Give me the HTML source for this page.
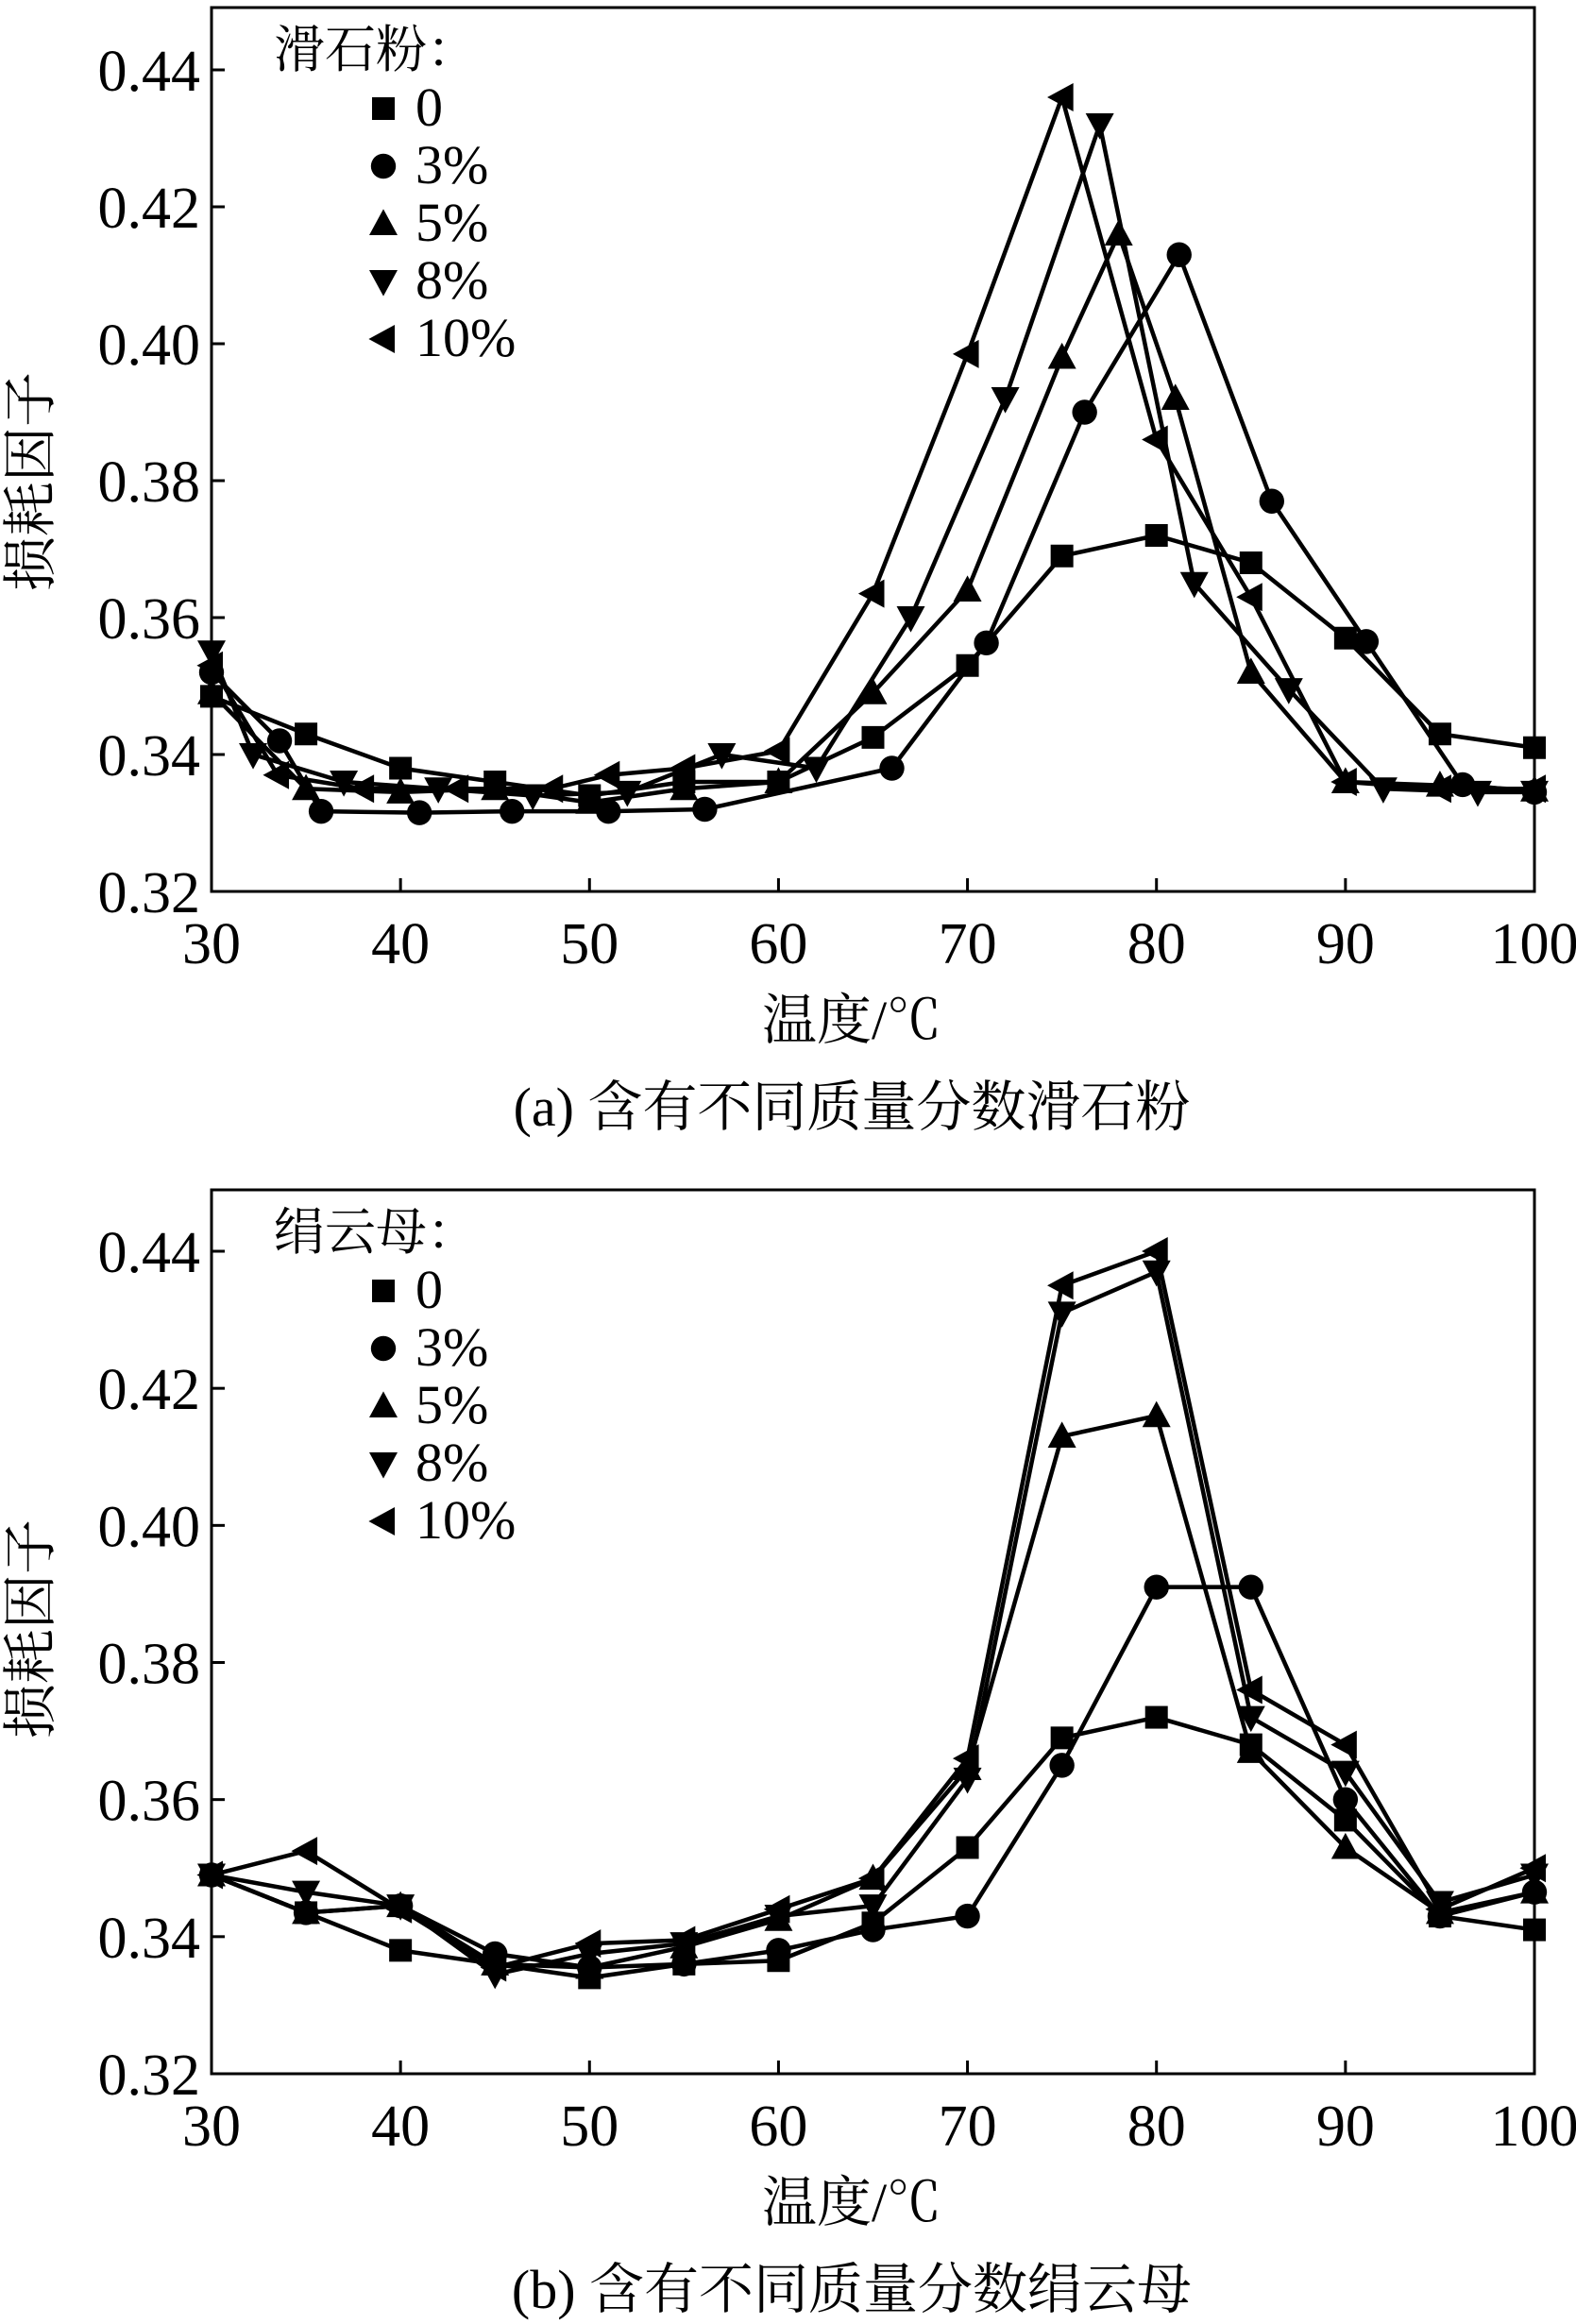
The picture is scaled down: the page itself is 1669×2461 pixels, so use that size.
<!DOCTYPE html>
<html><head><meta charset="utf-8"><style>
html,body{margin:0;padding:0;background:#fff}
svg{display:block}
text{font-family:"Liberation Serif","Noto Serif CJK SC","Noto Sans CJK SC",serif;fill:#000}
</style></head><body>
<svg id="chart" width="1669" height="2461" viewBox="0 0 1669 2461" xmlns="http://www.w3.org/2000/svg"></svg>
<script>
const xTicks=[30,40,50,60,70,80,90,100];
const yTicks=[0.32,0.34,0.36,0.38,0.40,0.42,0.44];
const yTickLabels=["0.32","0.34","0.36","0.38","0.40","0.42","0.44"];
const seriesLabels=["0","3%","5%","8%","10%"];
const markers=["square","circle","up","down","left"];
// panel a: talc
const aX0=[30,35,40,45,50,55,60,65,70,75,80,85,90,95,100];
const aY0=[0.3485,0.343,0.338,0.336,0.334,0.336,0.336,0.3425,0.353,0.369,0.372,0.368,0.357,0.343,0.341];
const aX3=[30,33.6,35.8,41,45.9,51,56.1,66,71,76.2,81.2,86.1,91.1,96.2,100];
const aY3=[0.352,0.342,0.3317,0.3315,0.3317,0.3317,0.332,0.338,0.3563,0.390,0.413,0.377,0.3565,0.3356,0.3345];
const aX5=[30,35,40,45,50,55,60,65,70,75,78,81,85,90,95,100];
const aY5=[0.349,0.335,0.3345,0.335,0.333,0.335,0.336,0.349,0.364,0.398,0.416,0.392,0.352,0.336,0.3355,0.3348];
const aX8=[30,32.2,37,42,47,52,57,62,67,72,77,82,87,92,97,100];
const aY8=[0.355,0.340,0.336,0.335,0.334,0.3345,0.340,0.338,0.360,0.392,0.432,0.365,0.3495,0.335,0.3345,0.3345];
const aX10=[30,33.5,38,43,48,51,55,60,65,70,75,80,85,90,95,100];
const aY10=[0.353,0.337,0.335,0.335,0.335,0.337,0.338,0.3405,0.3635,0.3985,0.436,0.386,0.363,0.336,0.335,0.335];
// panel b: sericite
const bX=[30,35,40,45,50,55,60,65,70,75,80,85,90,95,100];
const bY0=[0.349,0.3435,0.338,0.336,0.334,0.336,0.3365,0.342,0.353,0.369,0.372,0.368,0.357,0.343,0.341];
const bY3=[0.349,0.3435,0.3445,0.3375,0.3355,0.336,0.338,0.341,0.343,0.365,0.391,0.391,0.360,0.343,0.3465];
const bY5=[0.349,0.3435,0.3445,0.336,0.3355,0.3385,0.3425,0.3485,0.3645,0.413,0.416,0.367,0.353,0.3435,0.3465];
const bY8=[0.349,0.3465,0.3445,0.3345,0.3375,0.339,0.343,0.3445,0.363,0.431,0.437,0.372,0.364,0.345,0.349];
const bY10=[0.349,0.3525,0.344,0.3355,0.339,0.3395,0.344,0.3485,0.366,0.435,0.440,0.376,0.368,0.344,0.350];

const NS="http://www.w3.org/2000/svg";
const svg=document.getElementById('chart');
function mk(tag,attrs,parent){const e=document.createElementNS(NS,tag);for(const k in attrs)e.setAttribute(k,attrs[k]);(parent||svg).appendChild(e);return e;}
function marker(type,cx,cy,s,g){
  let e;
  if(type==="square")e=mk('rect',{x:cx-s,y:cy-s,width:2*s,height:2*s,fill:'#000'},g);
  else if(type==="circle")e=mk('circle',{cx:cx,cy:cy,r:s*1.1,fill:'#000'},g);
  else if(type==="up")e=mk('polygon',{points:`${cx},${cy-s*1.3} ${cx-s*1.25},${cy+s} ${cx+s*1.25},${cy+s}`,fill:'#000'},g);
  else if(type==="down")e=mk('polygon',{points:`${cx},${cy+s*1.3} ${cx-s*1.25},${cy-s} ${cx+s*1.25},${cy-s}`,fill:'#000'},g);
  else e=mk('polygon',{points:`${cx-s*1.3},${cy} ${cx+s},${cy-s*1.25} ${cx+s},${cy+s*1.25}`,fill:'#000'},g);
  
  
  return e;
}
function panel(o){
  const L=224,R=1625,top=o.top,bot=o.bot,y44=o.y44;
  const sx=v=>L+(v-30)*(R-L)/70;
  const sy=v=>bot-(v-0.32)*(bot-y44)/0.12;
  const g=mk('g',{});
  
  
  const fr=mk('rect',{x:L,y:top,width:R-L,height:bot-top,fill:'none',stroke:'#000','stroke-width':3},g);
  
  
  xTicks.forEach(t=>{
    mk('line',{x1:sx(t),x2:sx(t),y1:bot,y2:bot-14,stroke:'#000','stroke-width':3},g);
    const tx=mk('text',{x:sx(t),y:bot+76,'text-anchor':'middle','font-size':62},g);
    tx.textContent=t;
    
    
  });
  yTicks.forEach((t,i)=>{
    mk('line',{x1:L,x2:L+14,y1:sy(t),y2:sy(t),stroke:'#000','stroke-width':3},g);
    const tx=mk('text',{x:L-12,y:sy(t)+22,'text-anchor':'end','font-size':62},g);
    tx.textContent=yTickLabels[i];
    
    
  });
  o.series.forEach((s,i)=>{
    const pts=s.x.map((x,j)=>sx(x)+','+sy(s.y[j])).join(' ');
    const pl=mk('polyline',{points:pts,fill:'none',stroke:'#000','stroke-width':4.5,'stroke-linejoin':'round'},g);
    
    
    s.x.forEach((x,j)=>marker(markers[i],sx(x),sy(s.y[j]),12,g));
  });
  const lt=mk('text',{x:290,y:top+o.legTitleDy,'font-size':54},g);
  lt.textContent=o.legTitle;
  
  
  seriesLabels.forEach((lab,i)=>{
    const yy=top+o.legTitleDy+62+i*61;
    marker(markers[i],406,yy-18,12,g);
    const t=mk('text',{x:440,y:yy,'font-size':58},g);
    t.textContent=lab;
    
    
  });
  const xt=mk('text',{x:902,y:o.xTitleY,'text-anchor':'middle','font-size':58},g);
  xt.textContent='温度/℃';
  
  
  const yt=mk('text',{x:0,y:0,'text-anchor':'middle','font-size':58,transform:`translate(52,${o.yTitleY}) rotate(-90)`},g);
  yt.textContent='损耗因子';
  
  
  const cp=mk('text',{x:902,y:o.capY,'text-anchor':'middle','font-size':58},g);
  cp.textContent=o.caption;
  
  
}
panel({name:'panel-a-talc',top:8,bot:944,y44:74,legTitle:'滑石粉：',legTitleDy:63,xTitleY:1100,yTitleY:510,capY:1192,caption:'(a) 含有不同质量分数滑石粉',
  series:[{x:aX0,y:aY0},{x:aX3,y:aY3},{x:aX5,y:aY5},{x:aX8,y:aY8},{x:aX10,y:aY10}]});
panel({name:'panel-b-sericite',top:1260,bot:2196,y44:1325,legTitle:'绢云母：',legTitleDy:63,xTitleY:2352,yTitleY:1725,capY:2444,caption:'(b) 含有不同质量分数绢云母',
  series:[{x:bX,y:bY0},{x:bX,y:bY3},{x:bX,y:bY5},{x:bX,y:bY8},{x:bX,y:bY10}]});
</script>
</body></html>
